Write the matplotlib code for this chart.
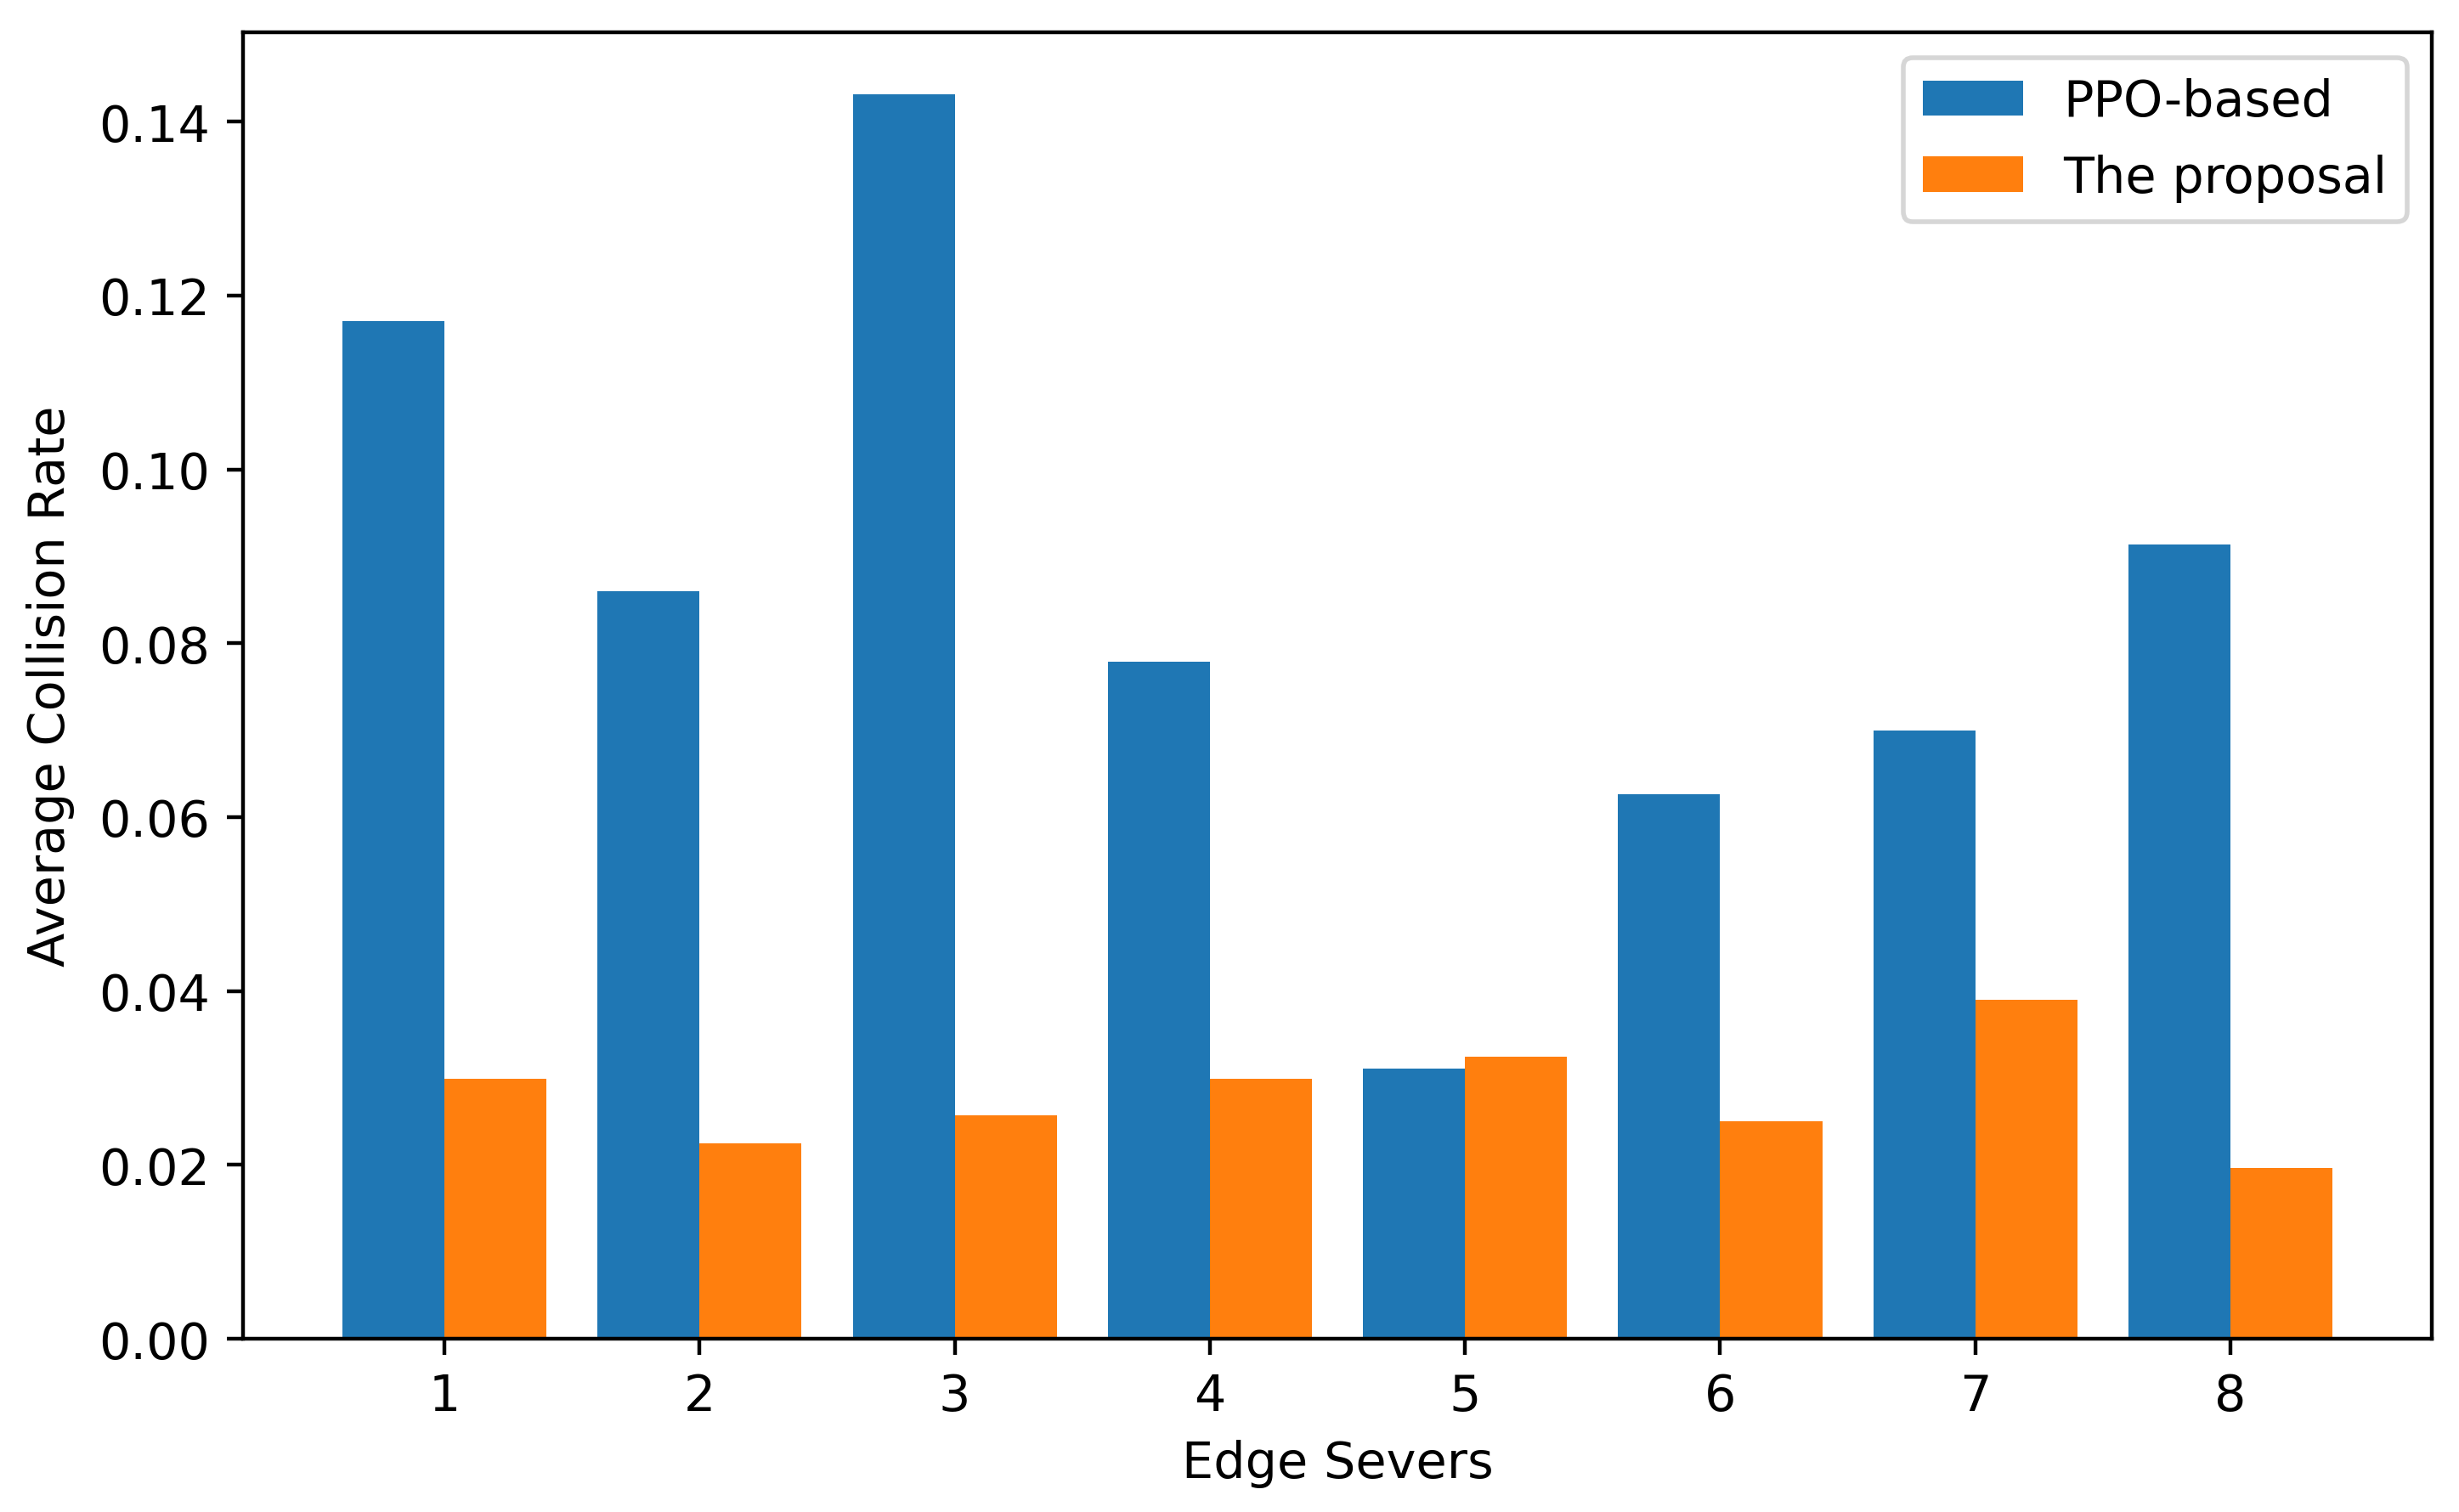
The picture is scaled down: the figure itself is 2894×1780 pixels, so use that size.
import numpy as np
import matplotlib
matplotlib.use('Agg')
import matplotlib.pyplot as plt

# Edge servers and average collision rates
servers = [1, 2, 3, 4, 5, 6, 7, 8]
ppo_based = [0.1171, 0.0860, 0.1431, 0.0779, 0.0311, 0.0626, 0.0700, 0.0914]
proposal = [0.0299, 0.0225, 0.0257, 0.0299, 0.0324, 0.0250, 0.0390, 0.0196]

plt.rcParams['font.size'] = 10.6

fig = plt.figure(figsize=(2894 / 400, 1781 / 400), dpi=400)
ax = fig.add_axes([0.0988, 0.1145, 0.989 - 0.0988, 0.978 - 0.1145])

x = np.array(servers)
width = 0.4
ax.bar(x - width / 2, ppo_based, width, label='PPO-based')
ax.bar(x + width / 2, proposal, width, label='The proposal')

ax.set_xticks(x)
ax.set_xlabel('Edge Severs')
ax.set_ylabel('Average Collision Rate', labelpad=5)
ax.legend(loc='upper right', labelspacing=0.55)

fig.savefig('out.png', dpi=400)
